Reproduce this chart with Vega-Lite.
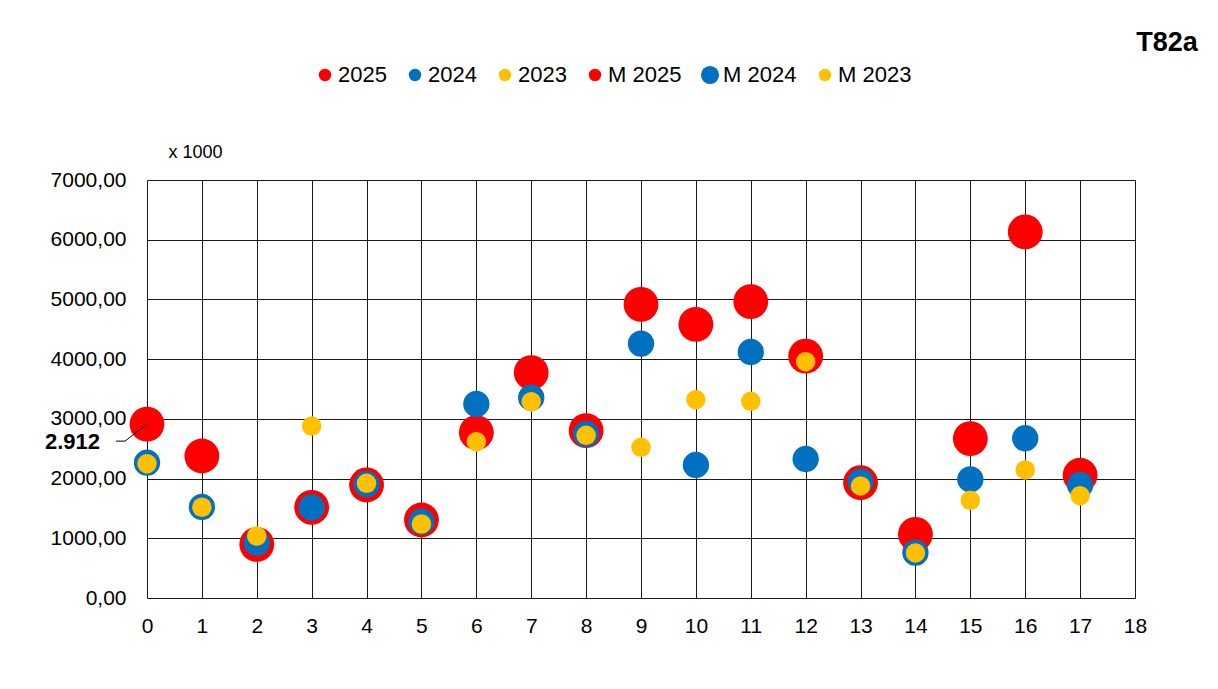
{
  "$schema": "https://vega.github.io/schema/vega-lite/v6.json",
  "width": 988,
  "height": 418,
  "autosize": {"type": "none"},
  "padding": {"left": 147, "top": 180, "right": 83, "bottom": 91},
  "background": "white",
  "title": {
    "text": "T82a",
    "anchor": "end",
    "fontSize": 27,
    "fontWeight": "bold",
    "font": "Liberation Sans",
    "color": "black",
    "dx": 51,
    "dy": -3
  },
  "data": {
    "values": [
      {"x": 0, "series": "2025", "value": 2912},
      {"x": 1, "series": "2025", "value": 2378},
      {"x": 2, "series": "2025", "value": 899},
      {"x": 3, "series": "2025", "value": 1519},
      {"x": 4, "series": "2025", "value": 1893},
      {"x": 5, "series": "2025", "value": 1306},
      {"x": 6, "series": "2025", "value": 2769},
      {"x": 7, "series": "2025", "value": 3774},
      {"x": 8, "series": "2025", "value": 2802},
      {"x": 9, "series": "2025", "value": 4918},
      {"x": 10, "series": "2025", "value": 4583},
      {"x": 11, "series": "2025", "value": 4963},
      {"x": 12, "series": "2025", "value": 4050},
      {"x": 13, "series": "2025", "value": 1931},
      {"x": 14, "series": "2025", "value": 1066},
      {"x": 15, "series": "2025", "value": 2669},
      {"x": 16, "series": "2025", "value": 6130},
      {"x": 17, "series": "2025", "value": 2055},
      {"x": 0, "series": "2024", "value": 2266},
      {"x": 1, "series": "2024", "value": 1524},
      {"x": 2, "series": "2024", "value": 926},
      {"x": 3, "series": "2024", "value": 1515},
      {"x": 4, "series": "2024", "value": 1905},
      {"x": 5, "series": "2024", "value": 1278},
      {"x": 6, "series": "2024", "value": 3249},
      {"x": 7, "series": "2024", "value": 3355},
      {"x": 8, "series": "2024", "value": 2747},
      {"x": 9, "series": "2024", "value": 4259},
      {"x": 10, "series": "2024", "value": 2227},
      {"x": 11, "series": "2024", "value": 4120},
      {"x": 12, "series": "2024", "value": 2328},
      {"x": 13, "series": "2024", "value": 1948},
      {"x": 14, "series": "2024", "value": 759},
      {"x": 15, "series": "2024", "value": 1988},
      {"x": 16, "series": "2024", "value": 2675},
      {"x": 17, "series": "2024", "value": 1892},
      {"x": 0, "series": "2023", "value": 2250},
      {"x": 1, "series": "2023", "value": 1520},
      {"x": 2, "series": "2023", "value": 1038},
      {"x": 3, "series": "2023", "value": 2880},
      {"x": 4, "series": "2023", "value": 1920},
      {"x": 5, "series": "2023", "value": 1239},
      {"x": 6, "series": "2023", "value": 2618},
      {"x": 7, "series": "2023", "value": 3288},
      {"x": 8, "series": "2023", "value": 2725},
      {"x": 9, "series": "2023", "value": 2524},
      {"x": 10, "series": "2023", "value": 3321},
      {"x": 11, "series": "2023", "value": 3294},
      {"x": 12, "series": "2023", "value": 3958},
      {"x": 13, "series": "2023", "value": 1876},
      {"x": 14, "series": "2023", "value": 755},
      {"x": 15, "series": "2023", "value": 1636},
      {"x": 16, "series": "2023", "value": 2144},
      {"x": 17, "series": "2023", "value": 1714}
    ]
  },
  "encoding": {
    "x": {
      "field": "x",
      "type": "quantitative",
      "scale": {"domain": [0, 18], "nice": false, "zero": false},
      "axis": {
        "values": [0, 1, 2, 3, 4, 5, 6, 7, 8, 9, 10, 11, 12, 13, 14, 15, 16, 17, 18],
        "title": null,
        "grid": true,
        "gridColor": "#1a1a1a",
        "gridOpacity": 1,
        "gridWidth": 1,
        "domain": false,
        "ticks": false,
        "labelPadding": 17,
        "labelFontSize": 21,
        "labelFont": "Liberation Sans",
        "labelColor": "black",
        "labelFlush": false,
        "labelOverlap": false
      }
    },
    "y": {
      "field": "value",
      "type": "quantitative",
      "scale": {"domain": [0, 7000], "nice": false, "zero": true},
      "axis": {
        "values": [0, 1000, 2000, 3000, 4000, 5000, 6000, 7000],
        "format": ".2f",
        "title": "x 1000",
        "titleAngle": 0,
        "titleX": 21,
        "titleY": -28,
        "titleAlign": "left",
        "titleBaseline": "middle",
        "titleFontSize": 18,
        "titleFontWeight": "normal",
        "titleFont": "Liberation Sans",
        "titleColor": "black",
        "grid": true,
        "gridColor": "#1a1a1a",
        "gridOpacity": 1,
        "gridWidth": 1,
        "domain": false,
        "ticks": false,
        "labelPadding": 21,
        "labelFontSize": 21,
        "labelFont": "Liberation Sans",
        "labelColor": "black",
        "labelFlush": false,
        "labelOverlap": false
      }
    },
    "color": {
      "field": "series",
      "type": "nominal",
      "scale": {
        "domain": ["2025", "2024", "2023", "M 2025", "M 2024", "M 2023"],
        "range": ["#FF0000", "#0070C0", "#FFC000", "#FF0000", "#0070C0", "#FFC000"]
      },
      "legend": {
        "title": null,
        "orient": "none",
        "direction": "horizontal",
        "columns": 6,
        "legendX": 167,
        "legendY": -116,
        "padding": 0,
        "symbolType": "circle",
        "symbolStrokeWidth": 0,
        "labelFontSize": 22,
        "labelFont": "Liberation Sans",
        "labelColor": "black",
        "labelOffset": 2,
        "columnPadding": 17,
        "labelLimit": 200
      }
    }
  },
  "layer": [
    {
      "mark": {"type": "point", "shape": "circle", "filled": true, "opacity": 1, "strokeWidth": 0},
      "encoding": {
        "size": {
          "field": "series",
          "type": "nominal",
          "scale": {
            "type": "ordinal",
            "domain": ["2025", "2024", "2023", "M 2025", "M 2024", "M 2023"],
            "range": [154, 154, 154, 154, 330, 154]
          },
          "legend": {
            "title": null,
            "orient": "none",
            "direction": "horizontal",
            "columns": 6,
            "legendX": 167,
            "legendY": -116,
            "padding": 0,
            "symbolType": "circle",
            "symbolStrokeWidth": 0,
            "labelFontSize": 22,
            "labelFont": "Liberation Sans",
            "labelColor": "black",
            "labelOffset": 2,
            "columnPadding": 17,
            "labelLimit": 200
          }
        }
      }
    },
    {
      "transform": [{"filter": "datum.series === '2025'"}],
      "mark": {"type": "point", "shape": "circle", "filled": true, "opacity": 1, "size": 1213, "strokeWidth": 0}
    },
    {
      "transform": [{"filter": "datum.series === '2024'"}],
      "mark": {"type": "point", "shape": "circle", "filled": true, "opacity": 1, "size": 693, "strokeWidth": 0}
    },
    {
      "transform": [{"filter": "datum.series === '2023'"}],
      "mark": {"type": "point", "shape": "circle", "filled": true, "opacity": 1, "size": 380, "strokeWidth": 0}
    },
    {
      "transform": [{"filter": "datum.series === '2025' && datum.x === 0"}],
      "mark": {"type": "rule", "strokeWidth": 1, "x2Offset": -22, "y2Offset": 17},
      "encoding": {
        "color": {"value": "black"},
        "x2": {"field": "x"},
        "y2": {"field": "value"}
      }
    },
    {
      "transform": [{"filter": "datum.series === '2025' && datum.x === 0"}],
      "mark": {"type": "rule", "strokeWidth": 1, "xOffset": -22, "yOffset": 17, "x2Offset": -31, "y2Offset": 17},
      "encoding": {
        "color": {"value": "black"},
        "x2": {"field": "x"},
        "y2": {"field": "value"}
      }
    },
    {
      "transform": [{"filter": "datum.series === '2025' && datum.x === 0"}],
      "mark": {"type": "text", "align": "right", "baseline": "middle", "dx": -47, "dy": 18, "fontSize": 22, "fontWeight": "bold", "font": "Liberation Sans"},
      "encoding": {
        "color": {"value": "black"},
        "text": {"field": "value", "type": "quantitative", "format": ","}
      }
    }
  ],
  "config": {
    "locale": {
      "number": {"decimal": ",", "thousands": ".", "grouping": [3], "currency": ["", " €"]}
    },
    "view": {"stroke": null},
    "font": "Liberation Sans"
  }
}
